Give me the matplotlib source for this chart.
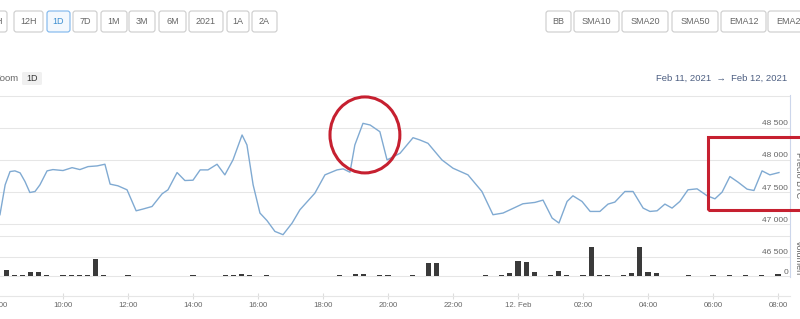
import matplotlib.pyplot as plt
from matplotlib import transforms
from matplotlib.patches import Ellipse, Rectangle, FancyBboxPatch

plt.rcParams['font.family'] = ['Liberation Sans', 'DejaVu Sans']

#------------------------------------------------------------------------------
# data: BTC price, hours after Feb 11 08:00

price_hours = [0.06, 0.22, 0.37, 0.52, 0.68, 0.83, 0.98, 1.14, 1.29, 1.51,
               1.69, 2.00, 2.28, 2.52, 2.77, 3.05, 3.29, 3.45, 3.69, 3.97,
               4.25, 4.46, 4.74, 5.05, 5.23, 5.51, 5.75, 6.00, 6.22, 6.46,
               6.74, 6.98, 7.23, 7.51, 7.66, 7.85, 8.06, 8.28, 8.52, 8.77,
               9.05, 9.29, 9.75, 10.06, 10.43, 10.62, 10.83, 10.98, 11.23, 11.45,
               11.75, 11.97, 12.37, 12.77, 12.98, 13.23, 13.66, 14.00, 14.46, 14.89,
               15.23, 15.54, 16.15, 16.52, 16.77, 17.05, 17.26, 17.51, 17.69, 17.97,
               18.22, 18.52, 18.77, 18.98, 19.29, 19.54, 19.85, 20.06, 20.28, 20.52,
               20.74, 20.98, 21.23, 21.51, 21.82, 22.06, 22.28, 22.52, 22.77, 23.05,
               23.26, 23.51, 23.75, 24.03]
price_values = [47149, 47613, 47819, 47830, 47799, 47665, 47494, 47510, 47613, 47830,
                47850, 47835, 47880, 47850, 47896, 47907, 47933, 47624, 47598, 47536,
                47210, 47237, 47277, 47474, 47536, 47804, 47680, 47685, 47845, 47845,
                47933, 47768, 48000, 48387, 48232, 47613, 47175, 47056, 46890, 46839,
                47020, 47226, 47484, 47768, 47845, 47861, 47809, 48232, 48568, 48542,
                48438, 48000, 48103, 48345, 48310, 48258, 48000, 47871, 47768, 47510,
                47149, 47175, 47319, 47340, 47376, 47097, 47020, 47355, 47443, 47355,
                47200, 47200, 47314, 47345, 47510, 47510, 47252, 47200, 47210, 47314,
                47252, 47355, 47536, 47551, 47443, 47396, 47500, 47742, 47655, 47546,
                47525, 47830, 47768, 47804]

# volume, one bar per 15 min slot
vol_slots = [1, 2, 3, 4, 5, 6, 8, 9, 10, 11, 12, 13, 16, 24, 28, 29, 30, 31, 33,
             42, 44, 45, 47, 48, 51, 53, 54, 60, 62, 63, 64, 65, 66, 68, 69, 70,
             72, 73, 74, 75, 77, 78, 79, 80, 81, 85, 88, 90, 92, 94, 96]
vol_values = [6, 1.5, 1.5, 4.5, 4.5, 1, 1.5, 1.5, 1.5, 1.5, 17, 1, 1, 1, 1, 1, 2, 1.5, 1,
              1, 2, 2.5, 1, 1.5, 1, 13, 13, 1, 1.5, 3, 15, 14, 4, 1, 5, 1,
              1.5, 29, 1, 1, 1.5, 3, 29, 4, 3, 1, 1, 1, 1, 1, 2.5]

hour_ticks = list(range(0, 25, 2))
hour_labels = ["08:00", "10:00", "12:00", "14:00", "16:00", "18:00", "20:00",
               "22:00", "12. Feb", "02:00", "04:00", "06:00", "08:00"]

price_ticks = [46500, 47000, 47500, 48000, 48500, 49000]
price_labels = ["46 500", "47 000", "47 500", "48 000", "48 500", ""]

range_buttons = ["1H", "12H", "1D", "7D", "1M", "3M", "6M", "2021", "1A", "2A"]
indicator_buttons = ["BB", "SMA10", "SMA20", "SMA50", "EMA12", "EMA26"]

#------------------------------------------------------------------------------
# layout (pixels in the 800x319 image)

W, H = 800, 319
range_button_px = [(-16, 7), (14, 43), (47, 70), (73, 97), (101, 127),
                   (129, 155), (159, 186), (189, 223), (227, 249), (252, 277)]
indicator_button_px = [(546, 571), (574, 619), (622, 668), (672, 718),
                       (721, 766), (768, 815)]

line_col = '#80aad2'
grid_col = '#e6e6e6'
text_col = '#666666'
red = '#c62030'

fig = plt.figure(figsize=(W / 100, H / 100), dpi=100)
px = transforms.IdentityTransform()

ax = fig.add_axes([-2 / W, (H - 296) / H, 792 / W, (296 - 95) / H])
ax.set_xlim(0, 792 / 32.5)
ax.set_ylim(45887, 49008)

ax.plot(price_hours, price_values, color=line_col, lw=1.0, zorder=3)

ax.set_yticks(price_ticks)
ax.yaxis.grid(True, color=grid_col, lw=0.75)
ax.tick_params(axis='y', length=0, labelleft=False)
ax.axhline(46823, color=grid_col, lw=0.75)

ax.set_xticks(hour_ticks)
ax.set_xticklabels(hour_labels)
ax.tick_params(axis='x', direction='inout', length=5, color='#dddddd',
               labelsize=5.6, labelcolor=text_col, pad=1.8)

for s in ['top', 'left']:
    ax.spines[s].set_visible(False)
ax.spines['bottom'].set_color(grid_col)
ax.spines['right'].set_color('#ccd6eb')
ax.spines['right'].set_bounds(46181, 49008)

lab_tr = transforms.offset_copy(
    transforms.blended_transform_factory(ax.transAxes, ax.transData),
    fig=fig, y=4, units='dots')
for p, lab in zip(price_ticks, price_labels):
    ax.text(0.9975, p, lab, transform=lab_tr, ha='right', va='center',
            fontsize=6, color=text_col)

# volume on its own scale at the bottom
axv = ax.twinx()
axv.set_ylim(-20, 181)
axv.bar([s / 4 for s in vol_slots], vol_values, width=0.155, color='#3a3a3a', zorder=2)
axv.axhline(0, color=grid_col, lw=0.75, zorder=1)
axv.set_yticks([])
for s in axv.spines.values():
    s.set_visible(False)
vtr = transforms.offset_copy(
    transforms.blended_transform_factory(axv.transAxes, axv.transData),
    fig=fig, y=4, units='dots')
axv.text(0.9975, 0, "0", transform=vtr, ha='right', va='center',
         fontsize=6, color=text_col)

# annotations
ax.add_patch(Ellipse((11.29, 48388), 2.15, 1180, fill=False, ec=red, lw=2.2,
                     zorder=5, clip_on=False))
ax.add_patch(Rectangle((21.85, 47222), 3.2, 1135, fill=False, ec=red, lw=2.2,
                       zorder=5, clip_on=False))

# axis titles (cut by the right edge, as in the screenshot)
fig.text(798.5 / W, 1 - 175 / H, "Precio BTC", rotation=-90, ha='center',
         va='center', fontsize=6.5, color=text_col)
fig.text(798.5 / W, 1 - 258 / H, "Volumen", rotation=-90, ha='center',
         va='center', fontsize=6.5, color=text_col)

# buttons
def button(x0, x1, label, active=False, tx=None):
    y0, y1 = H - 32, H - 11
    fig.add_artist(FancyBboxPatch((x0, y0), x1 - x0, y1 - y0,
                                  boxstyle="round,pad=0,rounding_size=2.5",
                                  transform=px, lw=0.8,
                                  ec='#7cb5ec' if active else '#cccccc',
                                  fc='#f3f8fd' if active else 'white'))
    if tx is None:
        tx = (x0 + x1) / 2
    fig.text(tx / W, 1 - 21.5 / H, label, ha='center', va='center',
             fontsize=6.5, color='#3d8fd1' if active else text_col)

for i, ((x0, x1), lab) in enumerate(zip(range_button_px, range_buttons)):
    button(x0, x1, lab, active=(lab == "1D"), tx=(-3 if i == 0 else None))
for (x0, x1), lab in zip(indicator_button_px, indicator_buttons):
    button(x0, x1, lab)

fig.text(-5.5 / W, 1 - 78.5 / H, "Zoom", ha='left', va='center', fontsize=6.8,
         color=text_col)
fig.add_artist(FancyBboxPatch((22, H - 85), 20, 13, boxstyle="round,pad=0,rounding_size=1.5",
                              transform=px, lw=0, fc='#f0f0f0'))
fig.text(32 / W, 1 - 78.5 / H, "1D", ha='center', va='center', fontsize=6.5,
         color='#333333')

fig.text(787 / W, 1 - 78.5 / H, "Feb 11, 2021  \u2192  Feb 12, 2021", ha='right',
         va='center', fontsize=6.8, color='#4d5f82')

fig.savefig("out.png", dpi=100)
